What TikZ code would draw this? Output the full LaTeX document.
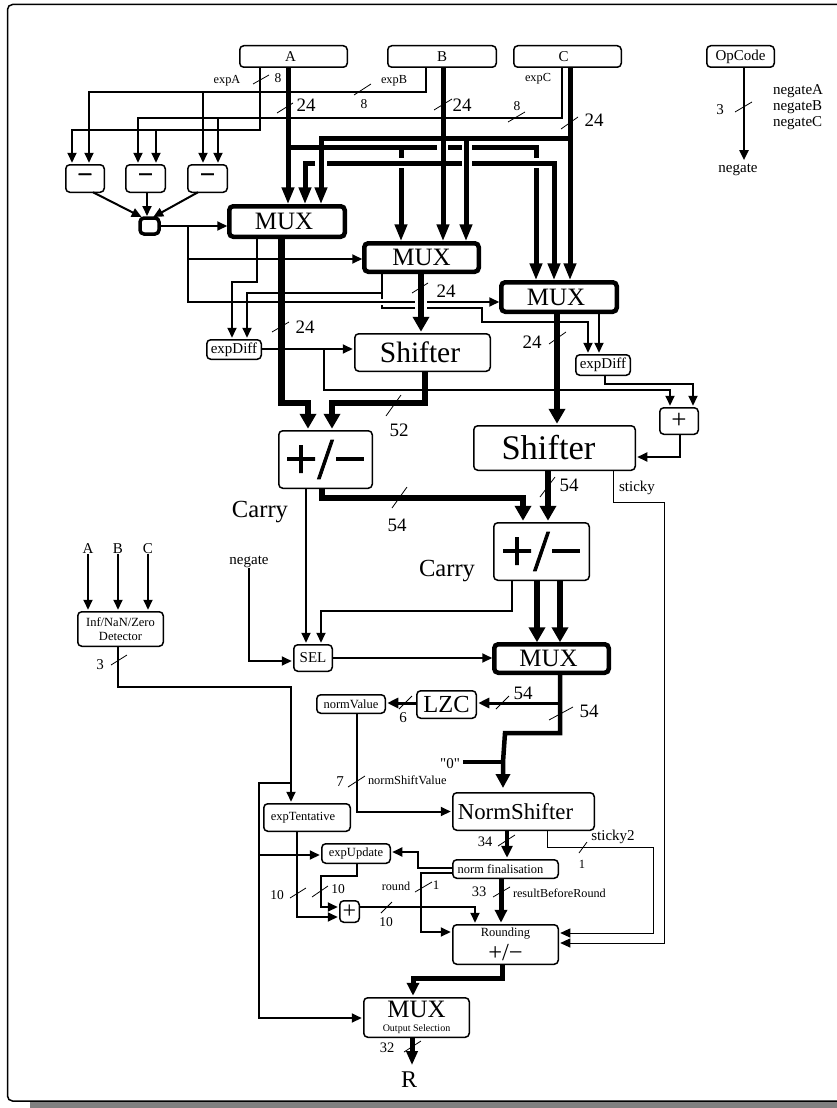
\documentclass[tikz,border=0pt]{standalone}
\usepackage{fontspec}
\setmainfont{Liberation Serif}
\newfontfamily\plainfont{Liberation Serif}
\usetikzlibrary{arrows.meta}
\tikzset{
  txt/.style={font=\fontsize{#1}{#1}\selectfont},
  lbl/.style={txt=#1,inner sep=0pt,outer sep=0pt},
  wh/.style 2 args={minimum width=#1,minimum height=#2},
  box/.style={draw,rounded corners=4pt,line width=1.5pt,inner sep=0pt,outer sep=0pt},
  muxbox/.style={box,line width=4.5pt},
  heavy/.style={font=\fontsize{#1}{#1}\selectfont\addfontfeature{FakeBold=1.5}},
  sig/.style={line width=2pt,shorten >=2pt,-{Triangle[length=10pt,width=9pt]}},
  slim/.style={sig,line width=.9pt},
  mid/.style={line width=3pt,shorten >=2pt,-{Triangle[length=11pt,width=10pt]}},
  bus/.style={line width=5pt,shorten >=2pt,-{Triangle[length=17pt,width=12pt]}},
  wide/.style={line width=6.5pt,shorten >=2pt,-{Triangle[length=15pt,width=16pt]}},
  tick/.style={line width=.8pt},
}
\begin{document}
\begin{tikzpicture}[x=1pt,y=-1pt]
    \clip (0,0) rectangle (837,1108);
    % frame
    \fill[black!50] (30,1100) rectangle (860,1108);
    \draw[line width=1.5pt,fill=white,rounded corners=5pt] (7.5,4.5) rectangle (860,1101);
    % inputs
    \node[box,wh={107.5pt}{21.5pt},txt=15] (A) at (293.5,56.5) {A\hspace*{6pt}};
    \node[box,wh={108.5pt}{21.5pt},txt=15] (B) at (442,56.5) {B};
    \node[box,wh={107.5pt}{21.5pt},txt=15] (C) at (567.5,56.5) {C\hspace*{8pt}};
    \node[box,wh={67.5pt}{21.5pt},txt=15] (OpCode) at (740.5,56.5) {OpCode};
    \node[lbl=15] (negateOut) at (738,170) {negate};
    % exponent compare
    \node[box,wh={38.5pt}{27.5pt},heavy=27] (minusa) at (85,178.5) {\raisebox{-3pt}{−}};
    \node[box,wh={39.5pt}{27.5pt},heavy=27] (minusb) at (145.5,178.5) {\raisebox{-3pt}{−}};
    \node[box,wh={39.5pt}{27.5pt},heavy=27] (minusc) at (207.5,178.5) {\raisebox{-3pt}{−}};
    \node[box,line width=3.5pt,wh={19pt}{16pt}] (cmp) at (149.5,226) {};
    % muxes
    \node[muxbox,wh={115.5pt}{30.5pt},txt=25] (MUXa) at (287,221.5) {\raisebox{-2pt}{MUX}\hspace*{6pt}};
    \node[muxbox,wh={114.5pt}{28.5pt},txt=25] (MUXb) at (421.5,257.5) {MUX};
    \node[muxbox,wh={115.5pt}{29.5pt},txt=25] (MUXc) at (559,297) {MUX\hspace*{6pt}};
    \node[box,wh={54.5pt}{19.5pt},txt=15] (expDiffa) at (234,349.5) {expDiff};
    \node[box,wh={54.5pt}{20.5pt},txt=15] (expDiffb) at (603,365) {expDiff};
    \node[box,wh={135.5pt}{37.5pt},txt=29.5] (Shiftera) at (422.5,352.5) {\raisebox{-3pt}{Shifter}\hspace*{5pt}};
    \node[box,wh={161.5pt}{44.5pt},txt=34.5] (Shifterb) at (554.5,448) {Shifter\hspace*{12pt}};
    \node[box,wh={38.5pt}{26.5pt},txt=27] (plusa) at (679,421) {\raisebox{-3pt}{+}};
    \node[box,wh={93.5pt}{57.5pt},heavy=58] (addera) at (325.5,459.5) {\raisebox{-7pt}{+/−}};
    \node[box,wh={95.5pt}{57.5pt},heavy=58] (adderb) at (541.5,551.5) {\raisebox{-7pt}{+/−}};
    \node[muxbox,wh={114.5pt}{28.5pt},txt=25] (MUXd) at (551.5,658.5) {MUX\hspace*{6pt}};
    \node[box,wh={38.5pt}{26.5pt},txt=15] (SEL) at (313,658) {SEL};
    \node[box,wh={59.5pt}{27.5pt},txt=24.5] (LZC) at (446.5,704.5) {LZC};
    \node[box,wh={68.5pt}{18.5pt},txt=12.5] (normValue) at (351,704) {normValue};
    % exceptions
    \node[box,wh={85.5pt}{34.5pt},txt=12.5,align=center] (detector) at (120.5,629) {Inf/NaN/Zero\\[1pt]Detector};
    \node[lbl=15] (inA) at (88,549) {A};
    \node[lbl=15] (inB) at (118,549) {B};
    \node[lbl=15] (inC) at (148,549) {C};
    \node[lbl=15] (negateIn) at (249,562) {negate};
    % normalisation and rounding
    \node[box,wh={86.5pt}{27.5pt},txt=12.5] (expTentative) at (307,817.5) {expTentative\hspace*{8pt}};
    \node[box,wh={141.5pt}{37.5pt},txt=22.8] (NormShifter) at (523.5,811.5) {NormShifter\hspace*{16pt}};
    \node[box,wh={105.5pt}{18.5pt},txt=12.5] (normFinal) at (505.5,869) {norm finalisation\hspace*{10pt}};
    \node[box,wh={68.5pt}{19.5pt},txt=12.5] (expUpdate) at (356,853.5) {expUpdate};
    \node[box,wh={19.5pt}{21.5pt},txt=24] (plusb) at (349.5,911.5) {\raisebox{-2pt}{+}};
    \node[box,wh={105.5pt}{39.5pt},align=center] (Rounding) at (505.5,944.5) {\fontsize{12.5}{14}\selectfont Rounding\\[4pt]\fontsize{24.5}{20}\selectfont +/−};
    \node[box,wh={105.5pt}{39.5pt},align=center] (MUXo) at (416.5,1017.5) {\fontsize{25}{20}\selectfont MUX\\[2pt]\fontsize{10}{10}\selectfont Output Selection};
    \node[lbl=24] (R) at (409,1080) {R};
    \node[lbl=15] (zero) at (450,764) {\plainfont "0"};
    % junctions
    \coordinate (jExpA) at (156,130);
    \coordinate (jExpB) at (203,92);
    \coordinate (jExpC) at (218,118);
    \coordinate (jCmp) at (188,226);
    \coordinate (jDiff) at (324,349);
    \coordinate (jBusA) at (288,147);
    \coordinate (jBusB) at (443,163);
    \coordinate (jBusC) at (570,138);
    \coordinate (jLzc) at (560,703);
    \coordinate (jZero) at (503,762);
    \coordinate (jExc) at (291,783);
    \coordinate (jExcB) at (259,855);
    % exponent wires
    \draw[sig] (260,0 |- A.south) |- (72,130) -- (72,0 |- minusa.north);
    \draw[sig] (jExpA) -- (156,0 |- minusb.north);
    \draw[sig] (426,0 |- B.south) |- (89,92) -- (89,0 |- minusa.north);
    \draw[sig] (jExpB) -- (203,0 |- minusc.north);
    \draw[sig] (562,0 |- C.south) |- (138,118) -- (138,0 |- minusb.north);
    \draw[sig] (jExpC) -- (218,0 |- minusc.north);
    \draw[sig] (93,0 |- minusa.south) -- ([xshift=-6pt]cmp.north);
    \draw[sig] (147,0 |- minusb.south) -- ([xshift=-2.5pt]cmp.north);
    \draw[sig] (198,0 |- minusc.south) -- ([xshift=2pt]cmp.north);
    \draw[sig] (cmp.east) -- (MUXa.west |- cmp.east);
    \draw[sig] (jCmp) |- (MUXb.west |- 0,259);
    \draw[sig] (jCmp) |- (415,302) (427,302) -- (MUXc.west |- 0,302);
    % mantissa buses
    \draw[bus] (A.south -| jBusA) -- (jBusA |- MUXa.north);
    \draw[bus] (jBusA) -- (437,147) (448,147) -- (462,147) (472,147) -| (536,158) (536,168) -- (536,0 |- MUXc.north);
    \draw[bus] (401,147) -- (401,158) (401,168) -- (401,0 |- MUXb.north);
    \draw[bus] (B.south -| jBusB) -- (jBusB |- MUXb.north);
    \draw[bus] (jBusB) -- (462,163) (472,163) -| (554,0 |- MUXc.north);
    \draw[bus] (315,163) -| (305,0 |- MUXa.north);
    \draw[bus,-] (327,163) -- (446,163);
    \draw[bus] (C.south -| jBusC) -- (jBusC |- MUXc.north);
    \draw[bus] (jBusC) -| (321,0 |- MUXa.north);
    \draw[bus] (466,138) -- (466,0 |- MUXb.north);
    % expDiff wires
    \draw[sig] (257,0 |- MUXa.south) |- (232,282) -- (232,0 |- expDiffa.north);
    \draw[sig] (382,0 |- MUXb.south) |- (247,293) -- (247,0 |- expDiffa.north);
    \draw[sig,-] (382,293) -- (382,301);
    \draw[sig] (382,305) |- (415,308) (427,308) -| (482,322) -| (588,0 |- expDiffb.north);
    \draw[sig] (599,0 |- MUXc.south) -- (599,0 |- expDiffb.north);
    \draw[sig] (expDiffa.east |- jDiff) -- (Shiftera.west |- jDiff);
    \draw[sig] (jDiff) |- (670,390) -- (670,0 |- plusa.north);
    \draw[sig] (605,0 |- expDiffb.south) |- (693,384) -- (693,0 |- plusa.north);
    \draw[sig] (680,0 |- plusa.south) |- (Shifterb.east |- 680,457);
    % adders
    \draw[wide] (281.5,0 |- MUXa.south) |- (308,403) -- (308,0 |- addera.north);
    \draw[wide] (421,0 |- MUXb.south) -- (421,0 |- Shiftera.north);
    \draw[wide] (425,0 |- Shiftera.south) |- (332,403) -- (332,0 |- addera.north);
    \draw[wide] (557,0 |- MUXc.south) -- (557,0 |- Shifterb.north);
    \draw[wide] (548,0 |- Shifterb.south) -- (548,0 |- adderb.north);
    \draw[wide] (322,0 |- addera.south) |- (523,498) -- (523,0 |- adderb.north);
    \draw[wide] (537,0 |- adderb.south) -- (537,0 |- MUXd.north);
    \draw[wide] (560,0 |- adderb.south) -- (560,0 |- MUXd.north);
    % sign selection
    \draw[sig] (306,0 |- addera.south) -- (306,0 |- SEL.north);
    \draw[sig] (512,0 |- adderb.south) |- (321,611) -- (321,0 |- SEL.north);
    \draw[sig] (negateIn.south) |- (SEL.west |- 0,661);
    \draw[sig] (SEL.east) -- (MUXd.west |- SEL.east);
    % normalisation
    \draw[line width=4.5pt,shorten >=2pt,-{Triangle[length=14pt,width=14pt]}] (MUXd.south -| jLzc) |- (505,733) -- (503,762) -- (503,790);
    \draw[line width=4.5pt] (zero.east) ++(3,-2) -- (jZero);
    \draw[mid] (jLzc) -- (LZC.east |- jLzc);
    \draw[mid] (LZC.west |- jLzc) -- (normValue.east |- jLzc);
    \draw[sig] (357,0 |- normValue.south) |- (NormShifter.west);
    \draw[line width=4.5pt,shorten >=2pt,-{Triangle[length=12pt,width=11pt]}] (507,0 |- NormShifter.south) -- (507,0 |- normFinal.north);
    \draw[line width=5pt,shorten >=2pt,-{Triangle[length=13pt,width=12pt]}] (501,0 |- normFinal.south) -- (501,0 |- Rounding.north);
    \draw[line width=5pt,shorten >=2pt,-{Triangle[length=13pt,width=12pt]}] (502,0 |- Rounding.south) |- (413,978) -- (413,0 |- MUXo.north);
    \draw[line width=5pt,shorten >=7pt,-{Triangle[length=14pt,width=11pt]}] (412,0 |- MUXo.south) -- (412,0 |- R.north);
    % exceptions
    \draw[sig] (inA.south) -- (88,0 |- detector.north);
    \draw[sig] (inB.south) -- (118,0 |- detector.north);
    \draw[sig] (inC.south) -- (148,0 |- detector.north);
    \draw[sig] (118,0 |- detector.south) |- (291,687) -- (291,0 |- expTentative.north);
    \draw[sig] (jExc) -| (259,1018) -- (MUXo.west |- 0,1018);
    \draw[sig] (jExcB) -- (expUpdate.west |- jExcB);
    % exponent update
    \draw[sig] (297,0 |- expTentative.south) |- (plusb.west |- 0,917);
    \draw[sig] (357,0 |- expUpdate.south) |- (321,876) |- (plusb.west |- 0,907);
    \draw[sig] (plusb.east |- 0,907) -| (475,0 |- Rounding.north);
    \draw[sig] (normFinal.west |- 0,868) -| (418,852) -- (expUpdate.east |- 0,852);
    \draw[sig] (normFinal.west |- 0,873) -| (421,932) -- (Rounding.west |- 0,932);
    % sticky bits
    \draw[slim] (613,0 |- Shifterb.south) |- (664,502) |- (Rounding.east |- 0,943);
    \draw[slim] (547,0 |- NormShifter.south) |- (653,847) |- (Rounding.east |- 0,933);
    % opcode
    \draw[sig,shorten >=4pt] (744,0 |- OpCode.south) -- (744,0 |- negateOut.north);
    % ticks
    \draw[tick] (253,84) -- (269,75);
    \draw[tick] (354,95) -- (371,84);
    \draw[tick] (277,113) -- (293,103);
    \draw[tick] (434,110) -- (452,99);
    \draw[tick] (508,122) -- (525,112);
    \draw[tick] (561,129) -- (578,117);
    \draw[tick] (735,112) -- (752,102);
    \draw[tick] (412,293) -- (428,283);
    \draw[tick] (272,332) -- (289,322);
    \draw[tick] (549,344) -- (566,332);
    \draw[tick] (386,416) -- (401,395);
    \draw[tick] (392,508) -- (407,487);
    \draw[tick] (540,497) -- (555,477);
    \draw[tick] (399,709) -- (412,696);
    \draw[tick] (496,709) -- (509,696);
    \draw[tick] (549,720) -- (573,707);
    \draw[tick] (111,665) -- (127,655);
    \draw[tick] (348,787) -- (365,776);
    \draw[tick] (498,846) -- (515,835);
    \draw[tick] (493,897) -- (510,887);
    \draw[tick] (579,853) -- (587,842);
    \draw[tick] (290,898) -- (306,888);
    \draw[tick] (312,897) -- (328,886);
    \draw[tick] (415,892) -- (432,882);
    \draw[tick] (381,913) -- (392,902);
    \draw[tick] (404,1052) -- (421,1041);
    % labels
    \node[lbl=12.3] (expA) at (227,81) {expA};
    \node[lbl=13.5] (widthExpA) at (278,78) {8};
    \node[lbl=12.3] (expB) at (394,81) {expB};
    \node[lbl=13.5] (widthExpB) at (364,104) {8};
    \node[lbl=12.3] (expC) at (538,79) {expC};
    \node[lbl=13.5] (widthExpC) at (517,106) {8};
    \node[lbl=19] (widthA) at (306,105) {24};
    \node[lbl=19] (widthB) at (462,105) {24};
    \node[lbl=19] (widthC) at (594,120) {24};
    \node[lbl=15] (widthOp) at (720,110) {3};
    \node[lbl=15,align=left,anchor=west] (negateABC) at (773,107) {negateA\\[1pt]negateB\\[1pt]negateC};
    \node[lbl=19] (widthMuxa) at (305,327) {24};
    \node[lbl=19] (widthMuxb) at (446,291) {24};
    \node[lbl=19] (widthMuxc) at (532,342) {24};
    \node[lbl=19] (widthShifta) at (399,430) {52};
    \node[lbl=19] (widthAdda) at (397,525) {54};
    \node[lbl=19] (widthShiftb) at (569,485) {54};
    \node[lbl=15] (sticky) at (637,488) {sticky};
    \node[lbl=24.6] (carrya) at (260,512) {Carry};
    \node[lbl=24.6] (carryb) at (447,571) {Carry};
    \node[lbl=19] (widthLzcIn) at (523,693) {54};
    \node[lbl=19] (widthMuxd) at (589,711) {54};
    \node[lbl=15] (widthLzc) at (403,718) {6};
    \node[lbl=15] (widthDet) at (100,665) {3};
    \node[lbl=15] (widthNorm) at (340,782) {7};
    \node[lbl=12.4,anchor=west] (normShiftValue) at (368,780) {normShiftValue};
    \node[lbl=14.5] (widthNormS) at (485,842) {34};
    \node[lbl=14.5] (widthNormF) at (479,892) {33};
    \node[lbl=12.2,anchor=west] (resultBeforeRound) at (513,893) {resultBeforeRound};
    \node[lbl=15] (stickyb) at (613,837) {sticky2};
    \node[lbl=12.5] (widthSticky) at (582,864) {1};
    \node[lbl=13.5] (widthTent) at (277,895) {10};
    \node[lbl=13.5] (widthUpd) at (338,889) {10};
    \node[lbl=13.5] (widthSum) at (386,922) {10};
    \node[lbl=12.2] (round) at (396,886) {round};
    \node[lbl=13] (widthRound) at (436,885) {1};
    \node[lbl=14.5] (widthOut) at (387,1048) {32};
\end{tikzpicture}
\end{document}
